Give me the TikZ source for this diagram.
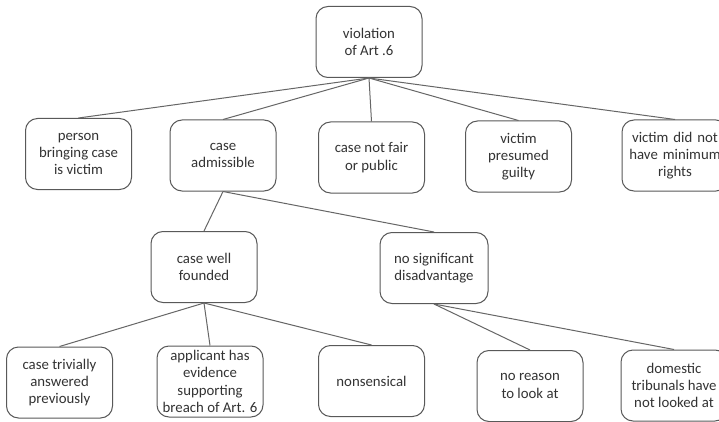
\documentclass[tikz,border=0pt]{standalone}
\usepackage{fontspec}
\setmainfont{Carlito}
\begin{document}
\begin{tikzpicture}[x=1pt,y=-1pt,
  box/.style={draw=black!65, line width=1pt, rounded corners=12pt, fill=white,
    minimum width=106pt, minimum height=71pt, align=center, inner sep=0pt,
    text=black!80, font=\fontsize{14.8}{17.3}\selectfont},
  link/.style={draw=black!60, line width=1pt}]
\useasboundingbox (0,0) rectangle (719,422);
\clip (0,0) rectangle (719,422);
\fill[white] (0,0) rectangle (719,422);
\node[box] (viol) at (369,42) {violation\\ of Art .6};
\node[box] (person) at (78.5,154) {person\\ bringing case\\ is victim};
\node[box] (adm) at (223,155.5) {case\\ admissible};
\node[box] (fair) at (371.5,157.5) {case not fair\\ or public};
\node[box] (guilty) at (518.5,156.5) {victim\\ presumed\\ guilty};
\node[box, text width=106pt, minimum width=106pt] (rights) at (675,155.5) {victim did not\\ have minimum\\ rights};
\node[box] (well) at (204,267) {case well\\ founded};
\node[box, minimum width=108pt] (nosig) at (434,268) {no significant\\ disadvantage};
\node[box] (triv) at (59.5,382.5) {case trivially\\ answered\\ previously};
\node[box] (appl) at (210,381.5) {applicant has\\ evidence\\ supporting\\ breach of Art. 6};
\node[box] (nons) at (371.5,381) {nonsensical};
\node[box] (reason) at (530,386) {no reason\\ to look at};
\node[box] (dom) at (674,385.5) {domestic\\ tribunals have\\ not looked at};
\foreach \c in {person,adm,fair,guilty,rights} \draw[link] (viol.south) -- (\c.north);
\foreach \c in {well,nosig} \draw[link] (adm.south) -- (\c.north);
\foreach \c in {triv,appl,nons} \draw[link] (well.south) -- (\c.north);
\foreach \c in {reason,dom} \draw[link] (nosig.south) -- (\c.north);
\end{tikzpicture}
\end{document}
